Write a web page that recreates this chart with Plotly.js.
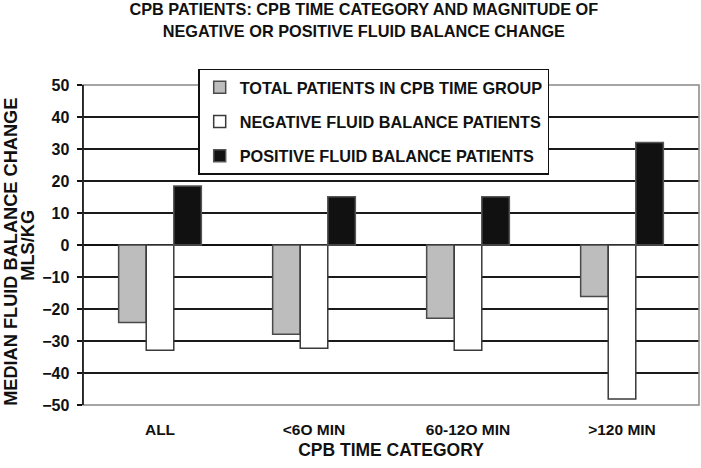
<!DOCTYPE html>
<html>
<head>
<meta charset="utf-8">
<script src="https://cdn.plot.ly/plotly-3.0.1.min.js"></script>
<style>
  html, body { margin: 0; padding: 0; background: #fff; }
  #chart { width: 701px; height: 468px; }
</style>
</head>
<body>
<div id="chart"></div>
<script>
// CPB time categories (letter O kept as printed on the original)
const categories = ['ALL', '<6O MIN', '60-12O MIN', '>120 MIN'];

// median fluid balance change, mls/kg
const totalPatients = [-24.2, -27.9, -22.9, -16.1];
const negativePatients = [-32.9, -32.3, -32.9, -48.1];
const positivePatients = [18.4, 15.1, 15.1, 32.0];

const seriesNames = [
    'TOTAL PATIENTS IN CPB TIME GROUP',
    'NEGATIVE FLUID BALANCE PATIENTS',
    'POSITIVE FLUID BALANCE PATIENTS'
];

const yTicks = [-50, -40, -30, -20, -10, 0, 10, 20, 30, 40, 50];

const font = 'Liberation Sans, Arial, sans-serif';

function barTrace(name, values, fill, edge, group) {
    return {
        type: 'bar',
        x: categories,
        y: values,
        name: name,
        legendgroup: group,
        marker: { color: fill, line: { color: edge, width: 1.5 } },
        hoverinfo: 'x+y'
    };
}

const traces = [
    barTrace(seriesNames[0], totalPatients, '#bdbdbd', '#4a4a4a', 'a'),
    barTrace(seriesNames[1], negativePatients, '#ffffff', '#3a3a3a', 'b'),
    barTrace(seriesNames[2], positivePatients, '#111111', '#555555', 'c')
];

const layout = {
    width: 701,
    height: 468,
    margin: { l: 83, r: 2, t: 85, b: 63 },
    paper_bgcolor: '#fff',
    plot_bgcolor: '#fff',
    font: { family: font, color: '#111', size: 15 },
    barmode: 'group',
    bargap: 0.463,
    bargroupgap: 0,
    title: {
        text: '<b>CPB PATIENTS: CPB TIME CATEGORY AND MAGNITUDE OF<br>NEGATIVE OR POSITIVE FLUID BALANCE CHANGE</b>',
        font: { family: font, size: 16.3, color: '#111' },
        x: 0.519,
        xanchor: 'center',
        xref: 'container',
        y: 0.967,
        yanchor: 'top',
        yref: 'container'
    },
    xaxis: {
        type: 'category',
        range: [-0.5, 3.5],
        ticks: '',
        showgrid: false,
        zeroline: false,
        showline: false,
        tickfont: { family: font, size: 15.5, color: '#111', weight: 'bold' },
        ticklabelstandoff: 13,
        title: {
            text: '<b>CPB TIME CATEGORY</b>',
            font: { family: font, size: 17.5, color: '#111' },
            standoff: 7
        }
    },
    // ticks hanging from the zero line at the category boundaries
    xaxis2: {
        overlaying: 'x',
        anchor: 'free',
        position: 0.5,
        side: 'bottom',
        range: [-0.5, 3.5],
        tickvals: [0.5, 1.5, 2.5],
        ticks: 'outside',
        ticklen: 5,
        tickwidth: 1.5,
        tickcolor: '#111',
        showticklabels: false,
        showgrid: false,
        zeroline: false,
        showline: false
    },
    yaxis: {
        range: [-50, 50],
        tickvals: yTicks,
        ticks: 'outside',
        ticklen: 5,
        tickwidth: 1.5,
        tickcolor: '#111',
        showline: true,
        linecolor: '#111',
        linewidth: 1.5,
        showgrid: true,
        gridcolor: '#1a1a1a',
        gridwidth: 1.5,
        zeroline: true,
        zerolinecolor: '#111',
        zerolinewidth: 2.5,
        tickfont: { family: font, size: 16, color: '#111', weight: 'bold' },
        ticklabelstandoff: 4
    },
    shapes: [{
        type: 'rect', xref: 'paper', yref: 'paper',
        x0: 0, x1: 1, y0: 0, y1: 1,
        line: { color: '#888', width: 1.5 },
        layer: 'above'
    }, {
        type: 'line', xref: 'paper', yref: 'paper',
        x0: 0, x1: 0, y0: 0, y1: 1,
        line: { color: '#111', width: 1.5 },
        layer: 'above'
    }],
    annotations: [{
        text: '<b>MEDIAN FLUID BALANCE CHANGE</b>',
        xref: 'paper', yref: 'paper',
        x: -0.1172, y: 0.478,
        xanchor: 'center', yanchor: 'middle',
        textangle: -90,
        showarrow: false,
        font: { family: font, size: 18.2, color: '#111' }
    }, {
        text: '<b>MLS/KG</b>',
        xref: 'paper', yref: 'paper',
        x: -0.0885, y: 0.4995,
        xanchor: 'center', yanchor: 'middle',
        textangle: -90,
        showarrow: false,
        font: { family: font, size: 18.2, color: '#111' }
    }],
    showlegend: true,
    legend: {
        x: 0.187,
        y: 1.051,
        xanchor: 'left',
        yanchor: 'top',
        traceorder: 'grouped',
        tracegroupgap: 10,
        bgcolor: '#fff',
        bordercolor: '#111',
        borderwidth: 1.5,
        font: { family: font, size: 16.3, color: '#111', weight: 'bold' },
        itemwidth: 30
    }
};

Plotly.newPlot('chart', traces, layout, { displayModeBar: false, staticPlot: true });
</script>
</body>
</html>
